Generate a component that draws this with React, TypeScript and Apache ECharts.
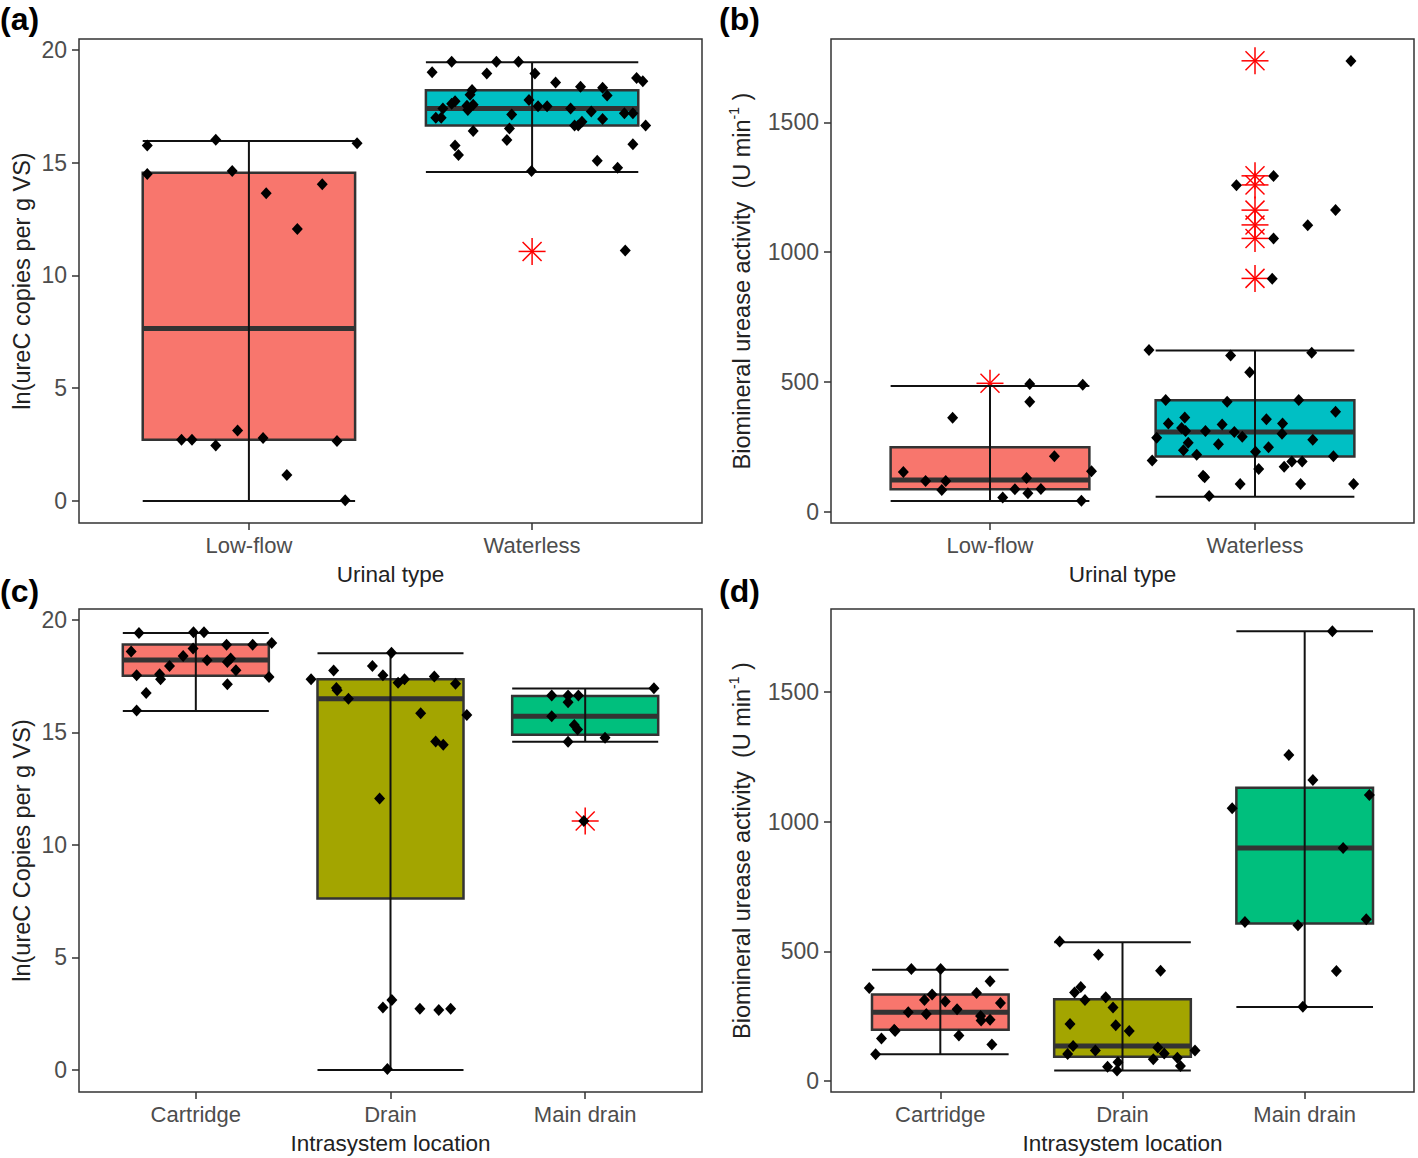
import React, { useEffect, useRef } from "react";
import * as echarts from "echarts";

const FONT = "'Liberation Sans', Arial, Helvetica, sans-serif";

// Categories
const urinalTypes = ["Low-flow", "Waterless"];
const locations = ["Cartridge", "Drain", "Main drain"];

// Box fills
const fillsUrinal = ["#F8766D", "#00BFC4"];
const fillsLocation = ["#F8766D", "#A3A500", "#00BF7D"];

// Box stats: [whiskerLow, q1, median, q3, whiskerHigh]
const boxA = [
  [0, 2.72, 7.64, 14.55, 15.95],
  [14.58, 16.64, 17.39, 18.2, 19.45],
];
const boxB = [
  [42, 87, 123, 249, 485],
  [58, 213, 307, 430, 621],
];
const boxC = [
  [15.95, 17.51, 18.21, 18.9, 19.41],
  [0, 7.62, 16.49, 17.36, 18.51],
  [14.58, 14.89, 15.71, 16.61, 16.94],
];
const boxD = [
  [103, 197.5, 265, 333, 429],
  [40, 93, 134.5, 315, 535],
  [285, 607, 899, 1131, 1735],
];

// Outliers: [category position, value]
const outA = [[2, 11.06]];
const outB = [
  [1, 495],
  [2, 1737],
  [2, 1294],
  [2, 1259],
  [2, 1162],
  [2, 1105],
  [2, 1053],
  [2, 899],
];
const outC = [[3, 11.06]];
const outD: number[][] = [];

// Jittered points: [jittered x position, value]
const ptsA = [
  [0.641, 15.75], [0.641, 14.49], [0.883, 16.01], [0.941, 14.62], [1.061, 13.64], [1.259, 14.04],
  [1.171, 12.06], [1.382, 15.86], [0.762, 2.72], [0.799, 2.72], [0.883, 2.46], [0.96, 3.12],
  [1.05, 2.79], [1.311, 2.66], [1.134, 1.15], [1.34, 0.03],
  [1.647, 19.0], [1.716, 19.47], [1.874, 19.47], [1.952, 19.47], [1.84, 18.95], [2.01, 18.95],
  [2.083, 18.55], [2.171, 18.36], [2.249, 18.31], [2.265, 17.97], [2.369, 18.75], [2.391, 18.6],
  [1.788, 18.22], [1.781, 18.0], [1.728, 17.72], [1.716, 17.6], [1.685, 17.39], [1.66, 16.98],
  [1.679, 16.98], [1.77, 17.52], [1.773, 17.33], [1.792, 17.56], [1.989, 17.77], [2.021, 17.5],
  [2.053, 17.5], [2.136, 17.39], [2.209, 17.26], [2.176, 16.81], [2.15, 16.64], [2.163, 16.64],
  [2.249, 16.93], [2.326, 17.18], [2.356, 17.18], [2.401, 16.64], [1.928, 17.13], [1.92, 16.51],
  [1.792, 16.4], [1.911, 16.0], [1.728, 15.75], [1.74, 15.33], [2.356, 15.81], [2.23, 15.08],
  [2.302, 14.77], [1.998, 14.62], [2.329, 11.1],
];
const ptsB = [
  [0.673, 153], [0.757, 119], [0.833, 119], [0.818, 84], [0.859, 362], [1.048, 55], [1.094, 87],
  [1.138, 130], [1.143, 72], [1.192, 88], [1.15, 492], [1.15, 424], [1.243, 214], [1.35, 489],
  [1.383, 156], [1.345, 43],
  [1.6, 623], [1.908, 602], [2.214, 613], [1.98, 538], [1.663, 431], [1.895, 424], [2.165, 431],
  [2.304, 385], [1.673, 340], [1.735, 363], [1.723, 323], [1.738, 311], [1.813, 311], [1.876, 336],
  [1.922, 307], [1.952, 289], [2.043, 357], [2.104, 340], [2.102, 301], [1.629, 285], [1.748, 266],
  [1.862, 260], [2.218, 278], [1.73, 237], [1.78, 220], [2.002, 231], [2.051, 249], [1.612, 198],
  [2.296, 214], [2.139, 194], [2.178, 194], [2.11, 174], [2.014, 165], [1.804, 139], [1.81, 133],
  [1.944, 107], [2.172, 107], [2.372, 107], [1.827, 61],
  [2.362, 1736], [2.07, 1293], [1.93, 1258], [2.304, 1162], [2.199, 1104], [2.07, 1053], [2.065, 898],
];
const ptsC = [
  [0.708, 19.41], [0.988, 19.44], [1.042, 19.44], [0.668, 18.59], [1.158, 18.89], [1.292, 18.89],
  [1.39, 18.97], [0.986, 18.72], [0.935, 18.39], [1.058, 18.2], [1.179, 18.28], [1.162, 18.12],
  [0.865, 17.94], [1.206, 17.76], [0.696, 17.53], [0.814, 17.58], [0.819, 17.36], [1.376, 17.46],
  [1.162, 17.13], [0.745, 16.74], [0.696, 15.97],
  [1.592, 17.36], [1.708, 17.74], [1.722, 16.97], [1.726, 16.87], [1.784, 16.49], [1.907, 17.94],
  [1.961, 17.53], [2.005, 18.53], [2.039, 17.2], [2.072, 17.36], [2.225, 17.48], [2.334, 17.15],
  [2.155, 15.84], [2.392, 15.77], [2.232, 14.59], [2.271, 14.45], [1.944, 12.06], [2.007, 3.11],
  [1.961, 2.78], [2.151, 2.72], [2.248, 2.67], [2.309, 2.72], [1.984, 0.05],
  [2.828, 16.63], [2.912, 16.63], [2.965, 16.63], [2.912, 16.33], [2.828, 15.71], [2.944, 15.32],
  [2.961, 15.12], [2.912, 14.58], [3.102, 14.76], [3.353, 16.95], [2.993, 11.06],
];
const ptsD = [
  [0.61, 358], [0.645, 103], [0.677, 163], [0.747, 197.5], [0.752, 192], [0.824, 265], [0.841, 432],
  [0.913, 312], [0.923, 258], [0.955, 333], [1.002, 432], [1.027, 306], [1.092, 276], [1.102, 175],
  [1.199, 339], [1.221, 250], [1.224, 233], [1.273, 384], [1.273, 236], [1.283, 140], [1.33, 300],
  [1.655, 538], [1.868, 487], [2.209, 425], [1.771, 362], [1.737, 341], [1.794, 312], [1.908, 323],
  [1.948, 283], [1.712, 219], [1.963, 215], [2.037, 192], [1.729, 134.5], [1.851, 117], [1.699, 104],
  [2.194, 129], [2.229, 106], [2.398, 117], [2.169, 83], [2.301, 89], [1.975, 72], [1.918, 54],
  [1.97, 40], [2.318, 57],
  [3.152, 1735], [2.913, 1258], [3.045, 1161], [3.355, 1103], [2.602, 1052], [3.211, 899],
  [2.672, 613], [2.963, 601], [3.338, 624], [3.174, 424], [2.99, 286],
];

// Tick values
const ticksLn = [0, 5, 10, 15, 20];
const ticksUrease = [0, 500, 1000, 1500];

const ureaseName = "{t|Biomineral urease activity  (U min}{s|-1}{t| )}";

const panels = [
  { key: "(a)", grid: { left: 79, top: 39, width: 623, height: 484 }, cats: urinalTypes, fills: fillsUrinal, boxes: boxA, outliers: outA, points: ptsA, yMin: -0.975, yMax: 20.475, yTicks: ticksLn, yName: "ln(ureC copies per g VS)", xName: "Urinal type", nameGap: 45, labelPos: [0, 3] },
  { key: "(b)", grid: { left: 831, top: 39, width: 583, height: 484 }, cats: urinalTypes, fills: fillsUrinal, boxes: boxB, outliers: outB, points: ptsB, yMin: -43, yMax: 1821, yTicks: ticksUrease, yName: ureaseName, xName: "Urinal type", nameGap: 74, labelPos: [719, 3] },
  { key: "(c)", grid: { left: 79, top: 609, width: 623, height: 483 }, cats: locations, fills: fillsLocation, boxes: boxC, outliers: outC, points: ptsC, yMin: -0.975, yMax: 20.475, yTicks: ticksLn, yName: "ln(ureC Copies per g VS)", xName: "Intrasystem location", nameGap: 45, labelPos: [0, 575] },
  { key: "(d)", grid: { left: 831, top: 609, width: 583, height: 483 }, cats: locations, fills: fillsLocation, boxes: boxD, outliers: outD, points: ptsD, yMin: -43, yMax: 1821, yTicks: ticksUrease, yName: ureaseName, xName: "Intrasystem location", nameGap: 74, labelPos: [719, 575] },
];

function buildOption() {
  const grids: any[] = [];
  const xAxes: any[] = [];
  const yAxes: any[] = [];
  const series: any[] = [];
  const graphics: any[] = [];

  panels.forEach((p, i) => {
    const n = p.cats.length;
    const catPos = p.cats.map((_, k) => k + 1);
    grids.push({ ...p.grid, show: true, borderColor: "#333", borderWidth: 1.5, backgroundColor: "#fff" });
    xAxes.push({
      type: "value", gridIndex: i, min: 0.4, max: n + 0.6, position: "bottom",
      axisLine: { show: false, onZero: false },
      splitLine: { show: false },
      axisTick: { show: true, length: 7, customValues: catPos, lineStyle: { color: "#333", width: 1.5 } },
      axisLabel: {
        customValues: catPos, margin: 11, fontSize: 22, color: "#4d4d4d", fontFamily: FONT,
        formatter: (v: number) => p.cats[Math.round(v) - 1] || "",
      },
      name: p.xName, nameLocation: "middle", nameGap: 40,
      nameTextStyle: { fontSize: 22.5, color: "#222", fontFamily: FONT },
    });
    const isRich = p.yName.startsWith("{");
    yAxes.push({
      type: "value", gridIndex: i, min: p.yMin, max: p.yMax, position: "left",
      axisLine: { show: false, onZero: false },
      splitLine: { show: false },
      axisTick: { show: true, length: 7, customValues: p.yTicks, lineStyle: { color: "#333", width: 1.5 } },
      axisLabel: {
        customValues: p.yTicks, margin: 12, fontSize: 23, color: "#4d4d4d", fontFamily: FONT,
        formatter: (v: number) => String(v),
      },
      name: p.yName, nameLocation: "middle", nameRotate: 90, nameGap: p.nameGap,
      nameTextStyle: isRich
        ? {
            rich: {
              t: { fontSize: 23.5, color: "#222", fontFamily: FONT, lineHeight: 30 },
              s: { fontSize: 14, color: "#222", fontFamily: FONT, verticalAlign: "top", lineHeight: 16 },
            },
          }
        : { fontSize: 23.5, color: "#222", fontFamily: FONT },
    });

    const boxData = p.boxes.map((b, k) => [k + 1, ...b]);
    // Box bodies with median
    series.push({
      type: "custom", xAxisIndex: i, yAxisIndex: i, data: boxData, z: 2,
      encode: { x: 0, y: [1, 2, 3, 4, 5] },
      renderItem: (params: any, api: any) => {
        const x = api.value(0);
        const q1 = api.value(2), med = api.value(3), q3 = api.value(4);
        const w = api.size([0.75, 0])[0];
        const pTop = api.coord([x, q3]);
        const pBot = api.coord([x, q1]);
        const pMed = api.coord([x, med]);
        return {
          type: "group",
          children: [
            { type: "rect", shape: { x: pTop[0] - w / 2, y: pTop[1], width: w, height: pBot[1] - pTop[1] }, style: { fill: p.fills[params.dataIndex], stroke: "#333", lineWidth: 2.5 } },
            { type: "line", shape: { x1: pMed[0] - w / 2, y1: pMed[1], x2: pMed[0] + w / 2, y2: pMed[1] }, style: { stroke: "#333", lineWidth: 5 } },
          ],
        };
      },
    });
    // Outliers (red asterisks)
    if (p.outliers.length) {
      series.push({
        type: "custom", xAxisIndex: i, yAxisIndex: i, data: p.outliers, z: 3,
        encode: { x: 0, y: 1 },
        renderItem: (params: any, api: any) => {
          const c = api.coord([api.value(0), api.value(1)]);
          const r = 13.5, d = 9.5;
          const st = { stroke: "#ff0000", lineWidth: 1.5 };
          return {
            type: "group",
            children: [
              { type: "line", shape: { x1: c[0] - r, y1: c[1], x2: c[0] + r, y2: c[1] }, style: st },
              { type: "line", shape: { x1: c[0], y1: c[1] - r, x2: c[0], y2: c[1] + r }, style: st },
              { type: "line", shape: { x1: c[0] - d, y1: c[1] - d, x2: c[0] + d, y2: c[1] + d }, style: st },
              { type: "line", shape: { x1: c[0] - d, y1: c[1] + d, x2: c[0] + d, y2: c[1] - d }, style: st },
            ],
          };
        },
      });
    }
    // Error bars (whiskers)
    series.push({
      type: "custom", xAxisIndex: i, yAxisIndex: i, data: boxData, z: 4,
      encode: { x: 0, y: [1, 5] },
      renderItem: (params: any, api: any) => {
        const x = api.value(0);
        const lo = api.value(1), hi = api.value(5);
        const w = api.size([0.75, 0])[0];
        const pLo = api.coord([x, lo]);
        const pHi = api.coord([x, hi]);
        const st = { stroke: "#111", lineWidth: 2 };
        return {
          type: "group",
          children: [
            { type: "line", shape: { x1: pLo[0], y1: pLo[1], x2: pHi[0], y2: pHi[1] }, style: st },
            { type: "line", shape: { x1: pLo[0] - w / 2, y1: pLo[1], x2: pLo[0] + w / 2, y2: pLo[1] }, style: st },
            { type: "line", shape: { x1: pHi[0] - w / 2, y1: pHi[1], x2: pHi[0] + w / 2, y2: pHi[1] }, style: st },
          ],
        };
      },
    });
    // Jittered points
    series.push({
      type: "scatter", xAxisIndex: i, yAxisIndex: i, data: p.points, z: 5,
      symbol: "diamond", symbolSize: [11, 12],
      itemStyle: { color: "#000", opacity: 1 },
    });

    graphics.push({
      type: "text", left: p.labelPos[0], top: p.labelPos[1],
      style: { text: p.key, fontSize: 32, fontWeight: "bold", fontFamily: FONT, fill: "#000" },
    });
  });

  return {
    animation: false,
    backgroundColor: "#fff",
    grid: grids,
    xAxis: xAxes,
    yAxis: yAxes,
    series,
    graphic: graphics,
  };
}

export default function App() {
  const ref = useRef<HTMLDivElement>(null);
  useEffect(() => {
    if (!ref.current) return;
    const chart = echarts.init(ref.current, undefined, { renderer: "svg" });
    chart.setOption(buildOption() as any);
    return () => chart.dispose();
  }, []);
  return (
    <div
      ref={ref}
      style={{ position: "absolute", left: 0, top: 0, width: 1418, height: 1158, background: "#fff" }}
    />
  );
}
